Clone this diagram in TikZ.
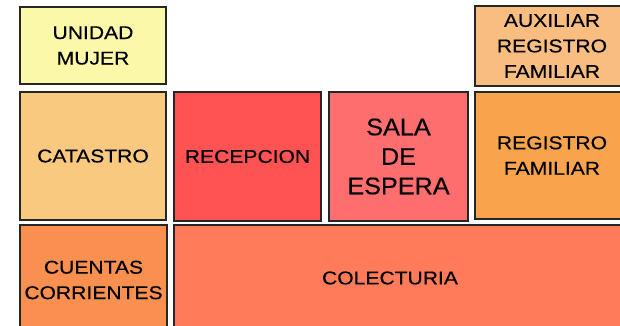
\documentclass[tikz,border=0pt]{standalone}
\usepackage{fontspec}
\setmainfont{Liberation Sans}[FakeStretch=1.14, FakeBold=0.4]
\newfontfamily\bigfont{Liberation Sans}[FakeStretch=1.05, FakeBold=0.4]
\definecolor{cmujer}{HTML}{FBF8A8}
\definecolor{ccatastro}{HTML}{F8C97F}
\definecolor{crecep}{HTML}{FF5252}
\definecolor{csala}{HTML}{FF6E6E}
\definecolor{caux}{HTML}{F9BD80}
\definecolor{cregfam}{HTML}{F8A44C}
\definecolor{ccuentas}{HTML}{FA9050}
\definecolor{ccolec}{HTML}{FF7B5A}
\tikzset{
  room/.style={draw=black!85, line width=1.3pt, rectangle, inner sep=0pt, align=center,
    font=\fontsize{18.5}{25.5}\selectfont},
  bigtext/.style={font=\bigfont\fontsize{24}{29.5}\selectfont},
  label/.style={inner sep=0pt, font=\fontsize{18.5}{25.5}\selectfont}
}
\begin{document}
\begin{tikzpicture}[x=1pt,y=-1pt]
\useasboundingbox (0,0) rectangle (620,325);
\fill[white] (0,0) rectangle (620,325);
\node[room, fill=cmujer, minimum width=146pt, minimum height=77pt] (umujer) at (93,45.5) {UNIDAD\\MUJER};
\node[room, fill=ccatastro, minimum width=146pt, minimum height=128pt] (catastro) at (93,156) {CATASTRO};
\node[room, fill=crecep, minimum width=147pt, minimum height=129pt] (recep) at (247.5,156.5) {RECEPCION};
\node[room, bigtext, fill=csala, minimum width=139pt, minimum height=129pt] (sala) at (398.5,156.5) {SALA\\DE\\ESPERA};
\node[room, fill=caux, minimum width=154pt, minimum height=80pt] (aux) at (552,46) {AUXILIAR\\REGISTRO\\FAMILIAR};
\node[room, fill=cregfam, minimum width=154pt, minimum height=127pt] (regfam) at (552,155.5) {REGISTRO\\FAMILIAR};
\node[room, fill=ccuentas, minimum width=147pt, minimum height=110pt] (cuentas) at (93.5,280) {CUENTAS\\CORRIENTES};
\node[room, fill=ccolec, minimum width=466pt, minimum height=110pt] (colec) at (407,280) {};
\node[label] (colectxt) at (390,278) {COLECTURIA};
\end{tikzpicture}
\end{document}
